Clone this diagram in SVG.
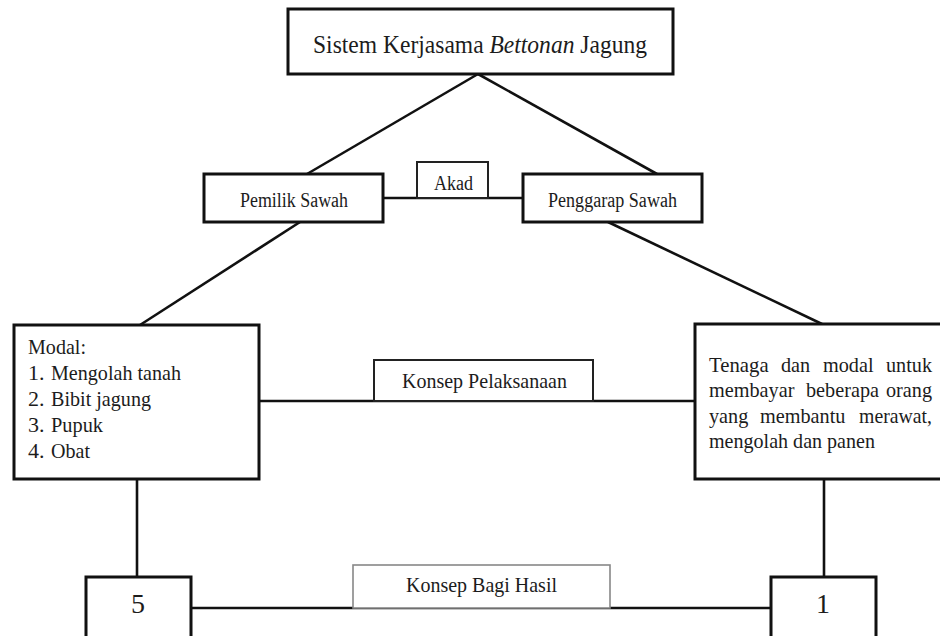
<svg xmlns="http://www.w3.org/2000/svg" width="940" height="636" viewBox="0 0 940 636">
<style>
text{font-family:"Liberation Serif","Times New Roman",serif;fill:#1c1c1c;}
.box{fill:#fff;stroke:#111;stroke-width:3;}
.lbl{fill:#fff;stroke:#222;stroke-width:2;}
.lblg{fill:#fff;stroke:#888;stroke-width:1.6;}
.ln{stroke:#111;stroke-width:2.6;fill:none;}
.f20{font-size:20px;}
.f22{font-size:22px;}
.f26{font-size:26px;}
.f28{font-size:28px;}
</style>
<rect width="940" height="636" fill="#fff"/>
<g id="connectors">
<line class="ln" x1="478" y1="74" x2="307" y2="174"/>
<line class="ln" x1="478" y1="74" x2="657" y2="174"/>
<line class="ln" x1="383" y1="198" x2="523" y2="198"/>
<line class="ln" x1="300" y1="222" x2="140" y2="325"/>
<line class="ln" x1="608" y1="222" x2="822" y2="324"/>
<line class="ln" x1="259" y1="401" x2="695" y2="401"/>
<line class="ln" x1="137" y1="479" x2="137" y2="577"/>
<line class="ln" x1="824" y1="479" x2="824" y2="577"/>
<line class="ln" x1="191" y1="608" x2="771" y2="608"/>
</g>
<g id="title">
<rect class="box" x="288" y="9" width="385" height="65"/>
<text class="f26" x="313" y="53" textLength="334" lengthAdjust="spacingAndGlyphs">Sistem Kerjasama <tspan font-style="italic">Bettonan</tspan> Jagung</text>
</g>
<g id="pemilik">
<rect class="box" x="204" y="174" width="179" height="48"/>
<text class="f20" x="240" y="207" textLength="108" lengthAdjust="spacingAndGlyphs">Pemilik Sawah</text>
</g>
<g id="akad">
<rect class="lbl" x="417" y="162" width="71" height="36"/>
<text class="f20" x="434" y="190" textLength="39" lengthAdjust="spacingAndGlyphs">Akad</text>
</g>
<g id="penggarap">
<rect class="box" x="523" y="174" width="179" height="48"/>
<text class="f20" x="548" y="207" textLength="129" lengthAdjust="spacingAndGlyphs">Penggarap Sawah</text>
</g>
<g id="modal">
<rect class="box" x="14" y="325" width="245" height="154"/>
<text class="f22" x="28" y="354" textLength="58" lengthAdjust="spacingAndGlyphs">Modal:</text>
<text class="f22" x="28" y="380">1.</text>
<text class="f22" x="51" y="380" textLength="130" lengthAdjust="spacingAndGlyphs">Mengolah tanah</text>
<text class="f22" x="28" y="406">2.</text>
<text class="f22" x="51" y="406" textLength="100" lengthAdjust="spacingAndGlyphs">Bibit jagung</text>
<text class="f22" x="28" y="432">3.</text>
<text class="f22" x="51" y="432" textLength="52" lengthAdjust="spacingAndGlyphs">Pupuk</text>
<text class="f22" x="28" y="458">4.</text>
<text class="f22" x="51" y="458" textLength="39" lengthAdjust="spacingAndGlyphs">Obat</text>
</g>
<g id="pelaksanaan">
<rect class="lbl" x="374" y="360" width="219" height="41"/>
<text class="f22" x="402" y="388" textLength="165" lengthAdjust="spacingAndGlyphs">Konsep Pelaksanaan</text>
</g>
<g id="tenaga">
<rect class="box" x="695" y="324" width="250" height="155"/>
<text class="f22" x="709" y="372" textLength="59.6" lengthAdjust="spacingAndGlyphs">Tenaga</text>
<text class="f22" x="781" y="372" textLength="29.2" lengthAdjust="spacingAndGlyphs">dan</text>
<text class="f22" x="823" y="372" textLength="50.6" lengthAdjust="spacingAndGlyphs">modal</text>
<text class="f22" x="886" y="372" textLength="46" lengthAdjust="spacingAndGlyphs">untuk</text>
<text class="f22" x="709" y="397" textLength="85.4" lengthAdjust="spacingAndGlyphs">membayar</text>
<text class="f22" x="806" y="397" textLength="73" lengthAdjust="spacingAndGlyphs">beberapa</text>
<text class="f22" x="886" y="397" textLength="46" lengthAdjust="spacingAndGlyphs">orang</text>
<text class="f22" x="709" y="423" textLength="39.3" lengthAdjust="spacingAndGlyphs">yang</text>
<text class="f22" x="760" y="423" textLength="85.4" lengthAdjust="spacingAndGlyphs">membantu</text>
<text class="f22" x="859" y="423" textLength="73" lengthAdjust="spacingAndGlyphs">merawat,</text>
<text class="f22" x="709" y="448" textLength="166" lengthAdjust="spacingAndGlyphs">mengolah dan panen</text>
</g>
<g id="bagihasil">
<rect class="lblg" x="353" y="565" width="257" height="43"/>
<text class="f22" x="406" y="592" textLength="151" lengthAdjust="spacingAndGlyphs">Konsep Bagi Hasil</text>
</g>
<g id="lima">
<rect class="box" x="86" y="577" width="105" height="62"/>
<text class="f28" x="138" y="613" text-anchor="middle">5</text>
</g>
<g id="satu">
<rect class="box" x="771" y="577" width="105" height="62"/>
<text class="f28" x="823" y="613" text-anchor="middle">1</text>
</g>
</svg>
